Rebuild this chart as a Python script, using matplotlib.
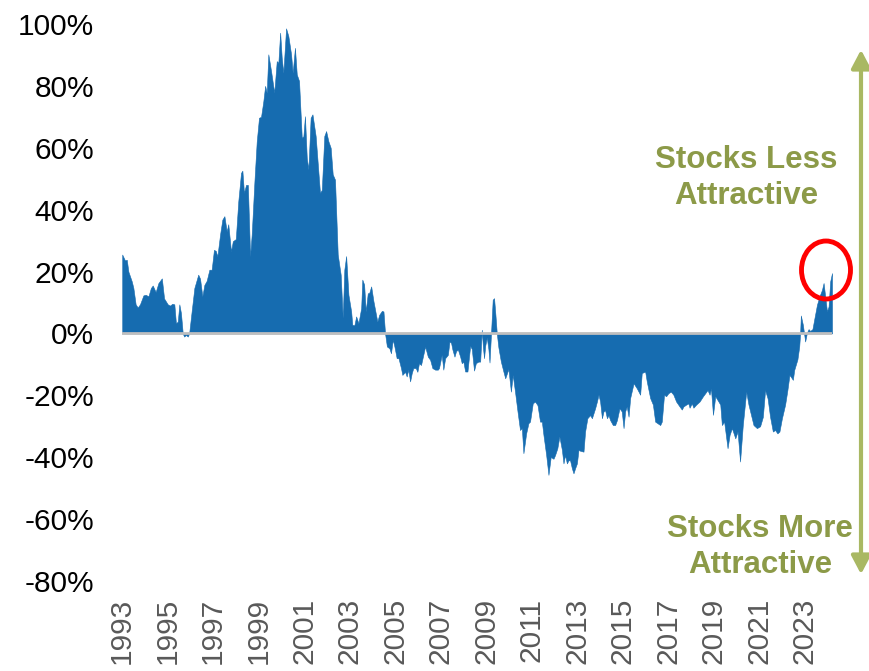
import matplotlib
matplotlib.use("Agg")
import matplotlib.pyplot as plt
from matplotlib.patches import Ellipse, FancyArrowPatch

plt.rcParams['font.family'] = ['Liberation Sans', 'DejaVu Sans']

# ---- data (decimal years, percent) ----
years = [
    1993.01, 1993.13, 1993.21, 1993.28, 1993.43, 1993.50, 1993.60, 1993.69, 1993.79, 1993.94,
    1994.04, 1994.16, 1994.27, 1994.35, 1994.48, 1994.60, 1994.75, 1994.85, 1995.01, 1995.11,
    1995.21, 1995.30, 1995.37, 1995.45, 1995.52, 1995.59, 1995.67, 1995.73, 1995.81, 1995.89,
    1995.95, 1996.06, 1996.18, 1996.35, 1996.43, 1996.53, 1996.62, 1996.72, 1996.84, 1996.94,
    1997.04, 1997.12, 1997.19, 1997.31, 1997.41, 1997.50, 1997.60, 1997.67, 1997.79, 1997.87,
    1998.00, 1998.11, 1998.23, 1998.29, 1998.36, 1998.45, 1998.53, 1998.63, 1998.70, 1998.82,
    1998.92, 1999.02, 1999.11, 1999.21, 1999.29, 1999.36, 1999.43, 1999.55, 1999.69, 1999.80,
    1999.87, 1999.95, 2000.02, 2000.09, 2000.21, 2000.31, 2000.43, 2000.50, 2000.60, 2000.68,
    2000.78, 2000.90, 2000.97, 2001.04, 2001.12, 2001.19, 2001.29, 2001.37, 2001.51, 2001.70,
    2001.78, 2001.89, 2001.97, 2002.07, 2002.17, 2002.26, 2002.36, 2002.48, 2002.61, 2002.70,
    2002.77, 2002.85, 2002.95, 2003.07, 2003.12, 2003.21, 2003.29, 2003.39, 2003.51, 2003.56,
    2003.64, 2003.71, 2003.80, 2003.86, 2003.95, 2004.05, 2004.12, 2004.22, 2004.30, 2004.42,
    2004.49, 2004.56, 2004.64, 2004.75, 2004.82, 2004.90, 2004.97, 2005.07, 2005.15, 2005.26,
    2005.32, 2005.44, 2005.51, 2005.58, 2005.66, 2005.73, 2005.80, 2005.91, 2005.98, 2006.05,
    2006.14, 2006.24, 2006.32, 2006.44, 2006.54, 2006.64, 2006.76, 2006.88, 2006.93, 2007.05,
    2007.12, 2007.20, 2007.32, 2007.39, 2007.46, 2007.52, 2007.61, 2007.68, 2007.76, 2007.86,
    2007.93, 2008.00, 2008.08, 2008.18, 2008.30, 2008.37, 2008.47, 2008.55, 2008.66, 2008.74,
    2008.81, 2008.86, 2008.91, 2008.96, 2009.03, 2009.10, 2009.15, 2009.22, 2009.29, 2009.35,
    2009.41, 2009.47, 2009.54, 2009.65, 2009.76, 2009.84, 2009.98, 2010.09, 2010.17, 2010.27,
    2010.38, 2010.49, 2010.57, 2010.64, 2010.76, 2010.86, 2010.93, 2011.05, 2011.15, 2011.26,
    2011.37, 2011.45, 2011.52, 2011.64, 2011.74, 2011.84, 2011.96, 2012.03, 2012.13, 2012.22,
    2012.33, 2012.40, 2012.47, 2012.55, 2012.62, 2012.69, 2012.77, 2012.84, 2012.91, 2012.99,
    2013.06, 2013.13, 2013.28, 2013.35, 2013.45, 2013.57, 2013.65, 2013.79, 2013.87, 2013.94,
    2014.01, 2014.09, 2014.16, 2014.23, 2014.31, 2014.38, 2014.45, 2014.57, 2014.67, 2014.75,
    2014.86, 2014.96, 2015.04, 2015.11, 2015.18, 2015.26, 2015.33, 2015.48, 2015.62, 2015.77,
    2015.84, 2015.99, 2016.06, 2016.21, 2016.33, 2016.43, 2016.53, 2016.65, 2016.72, 2016.82,
    2016.91, 2017.01, 2017.12, 2017.23, 2017.35, 2017.50, 2017.60, 2017.67, 2017.79, 2017.89,
    2017.94, 2018.04, 2018.11, 2018.23, 2018.38, 2018.53, 2018.63, 2018.73, 2018.82, 2018.88,
    2018.97, 2019.07, 2019.21, 2019.29, 2019.36, 2019.46, 2019.61, 2019.70, 2019.80, 2019.95,
    2020.05, 2020.16, 2020.28, 2020.43, 2020.53, 2020.64, 2020.75, 2020.90, 2021.04, 2021.16,
    2021.26, 2021.37, 2021.48, 2021.60, 2021.70, 2021.80, 2021.89, 2022.00, 2022.14, 2022.24,
    2022.33, 2022.39, 2022.48, 2022.54, 2022.63, 2022.68, 2022.76, 2022.80, 2022.83, 2022.92,
    2022.98, 2023.02, 2023.10, 2023.17, 2023.24, 2023.34, 2023.43, 2023.54, 2023.65, 2023.76,
    2023.83, 2023.90, 2023.98, 2024.05, 2024.12, 2024.20,
]
values = [
    25.5, 23.6, 23.8, 20.0, 16.8, 14.7, 9.4, 8.4, 9.4, 12.3,
    12.5, 12.0, 14.7, 15.5, 13.4, 16.3, 17.8, 11.3, 9.4, 9.0,
    9.6, 9.4, 3.3, 3.8, 9.4, 6.6, 0.0, -1.0, -0.5, -1.0,
    0.0, 7.1, 14.7, 19.0, 17.7, 12.0, 15.7, 17.0, 20.6, 20.6,
    27.0, 26.7, 24.9, 32.0, 36.8, 37.9, 33.0, 35.3, 26.5, 29.8,
    30.5, 42.7, 51.9, 52.6, 45.4, 48.0, 48.0, 24.9, 32.0, 49.2,
    62.0, 69.7, 70.0, 75.0, 80.0, 77.8, 90.2, 84.8, 77.8, 88.0,
    87.4, 97.2, 89.0, 84.2, 98.6, 96.1, 90.2, 84.2, 92.3, 83.7,
    81.6, 63.2, 63.7, 70.2, 56.7, 53.0, 69.7, 70.8, 63.8, 45.4,
    46.4, 63.8, 65.4, 62.1, 60.0, 51.4, 49.7, 25.5, 19.0, 5.0,
    20.6, 25.0, 12.5, 7.1, 2.8, 2.6, 5.5, 3.3, 8.2, 17.4,
    15.8, 7.1, 13.0, 13.0, 15.2, 10.4, 7.7, 3.8, 6.0, 7.3,
    7.1, 0.0, -4.2, -4.8, -6.4, -2.0, -4.2, -8.0, -8.0, -11.2,
    -13.4, -12.4, -13.9, -11.7, -15.5, -12.9, -11.2, -11.2, -12.4, -9.6,
    -10.2, -6.9, -4.2, -7.5, -8.5, -11.2, -11.7, -11.7, -11.2, -6.9,
    -11.7, -8.0, -6.9, -2.6, -3.0, -5.2, -7.5, -5.7, -5.2, -7.5,
    -9.6, -9.1, -12.3, -12.3, -4.0, -5.0, -12.0, -9.6, -9.1, -9.1,
    1.2, -4.5, -8.0, -4.0, -1.3, -5.0, -9.4, 0.6, 10.9, 11.4,
    6.0, 0.0, -4.5, -9.1, -12.3, -14.5, -11.5, -18.8, -13.4, -18.8,
    -25.2, -31.2, -30.6, -38.7, -32.3, -29.0, -28.5, -22.6, -22.0, -23.2,
    -28.5, -28.5, -32.8, -39.3, -45.7, -39.9, -40.5, -39.3, -37.1, -33.3,
    -37.6, -42.0, -39.3, -42.0, -41.0, -41.0, -43.6, -45.2, -43.6, -42.0,
    -37.6, -37.9, -38.2, -31.7, -27.4, -26.4, -27.4, -24.2, -22.0, -19.8,
    -22.0, -27.4, -25.2, -24.8, -27.4, -26.4, -28.0, -29.6, -29.6, -28.0,
    -24.2, -25.2, -30.6, -25.2, -23.6, -26.9, -20.9, -16.1, -17.7, -19.8,
    -12.8, -12.3, -15.5, -20.9, -23.0, -28.5, -29.0, -29.6, -28.5, -19.8,
    -20.3, -19.3, -18.8, -19.8, -22.0, -23.6, -24.6, -23.6, -23.0, -22.6,
    -24.0, -22.6, -24.0, -23.0, -22.0, -20.3, -19.3, -18.3, -19.8, -17.7,
    -26.3, -20.3, -22.0, -23.0, -29.6, -28.5, -37.1, -32.8, -30.6, -33.9,
    -31.7, -41.4, -29.6, -18.8, -23.0, -26.3, -29.6, -30.6, -30.0, -27.0,
    -18.3, -21.0, -27.0, -31.7, -31.2, -32.3, -31.7, -27.4, -23.0, -18.3,
    -13.4, -14.0, -15.0, -11.8, -9.6, -8.4, -4.2, 0.1, 5.8, 2.8,
    -0.4, -2.6, 0.3, 1.4, 0.8, 1.4, 5.0, 9.3, 12.0, 14.1,
    16.3, 12.0, 7.1, 8.7, 16.8, 19.5,
]
tick_years = list(range(1993, 2024, 2))
y_ticks = list(range(-80, 101, 20))
label_up = "Stocks Less\nAttractive"
label_down = "Stocks More\nAttractive"

# ---- styles ----
BLUE = "#166cb0"
GREEN_TEXT = "#8c9a48"
GREEN_ARROW = "#a9b863"

W, H = 870, 671
fig = plt.figure(figsize=(W / 100, H / 100), dpi=100)
ax = fig.add_axes([122 / W, 90 / H, 710 / W, 557 / H])

ax.fill_between(years, values, 0, color=BLUE, linewidth=0.4, edgecolor=BLUE, zorder=2)
ax.axhline(0, color="#bfbfbf", linewidth=2, zorder=3)

ax.set_xlim(years[0], years[-1])
ax.set_ylim(-80, 100)
ax.set_yticks(y_ticks)
ax.set_yticklabels([f"{v}%" for v in y_ticks], fontsize=21.5, color="black")
ax.set_xticks(tick_years)
ax.set_xticklabels([str(y) for y in tick_years], rotation=90, fontsize=21.5,
                   color="#595959")
ax.tick_params(axis="y", length=0, pad=20)
ax.tick_params(axis="x", length=0, pad=12)
for s in ax.spines.values():
    s.set_visible(False)

# ---- annotations (figure pixel coordinates) ----
arrow = FancyArrowPatch((861 / W, (H - 577) / H), (861 / W, (H - 47) / H),
                        transform=fig.transFigure,
                        arrowstyle="<|-|>,head_length=1.1,head_width=0.58",
                        mutation_scale=10, color=GREEN_ARROW, linewidth=3)
fig.patches.append(arrow)

fig.text(746 / W, (H - 178) / H, label_up, ha="center", va="center",
         fontsize=22.5, fontweight="bold", color=GREEN_TEXT, linespacing=1.3)
fig.text(760 / W, (H - 547) / H, label_down, ha="center", va="center",
         fontsize=22.5, fontweight="bold", color=GREEN_TEXT, linespacing=1.3)

ell = Ellipse((826 / W, (H - 270) / H), 49 / W, 58 / H, transform=fig.transFigure,
              fill=False, edgecolor="#ff0000", linewidth=3.5)
fig.patches.append(ell)

fig.savefig("out.png", dpi=100)
